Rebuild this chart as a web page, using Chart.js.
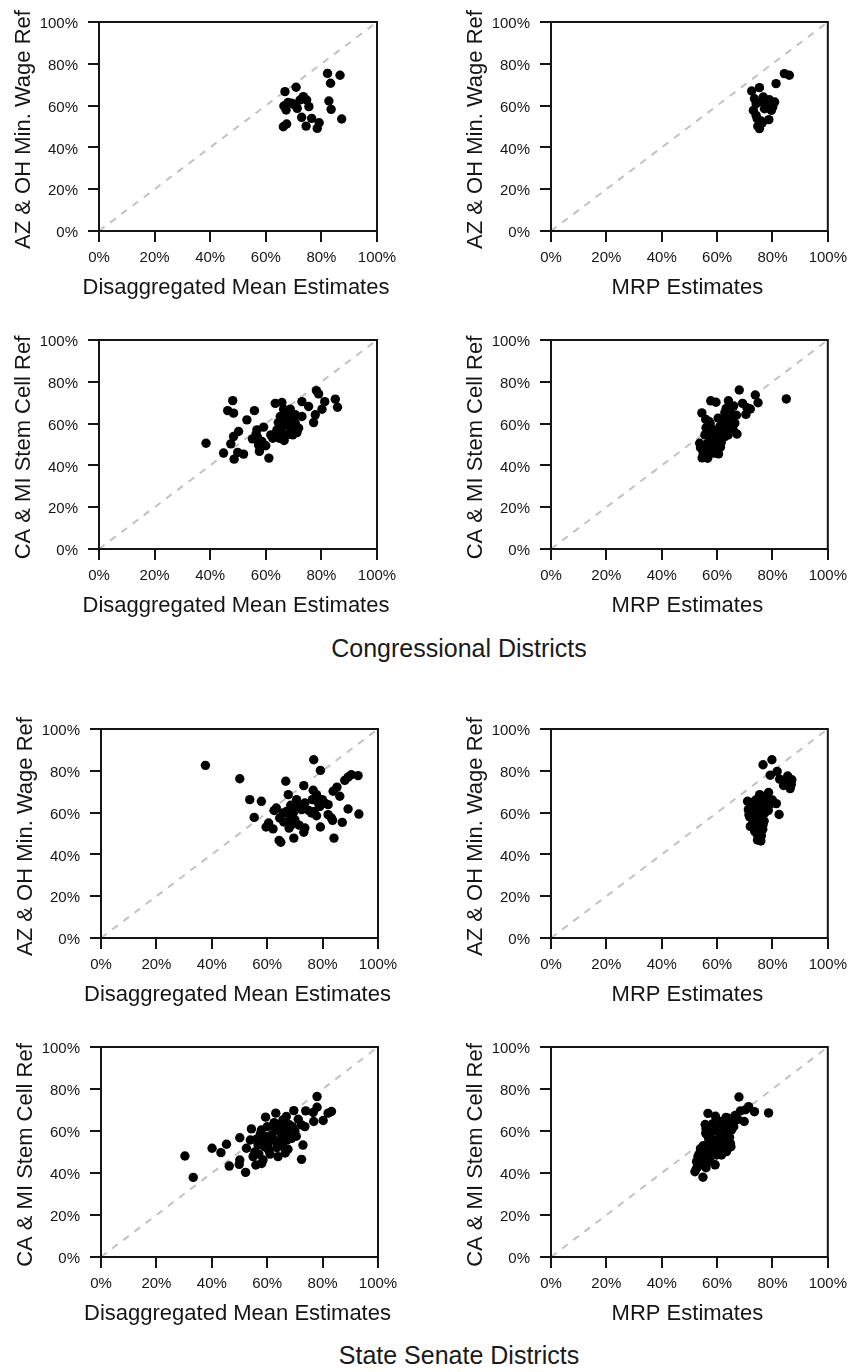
<!DOCTYPE html>
<html>
<head>
<meta charset="utf-8">
<title>Ballot measure validation</title>
<script src="https://cdn.jsdelivr.net/npm/chart.js@4.4.1/dist/chart.umd.min.js"></script>
<style>
  html, body { margin: 0; padding: 0; background: #fff; }
  #page { position: relative; width: 854px; height: 1372px; overflow: hidden;
          font-family: "Liberation Sans", Arial, Helvetica, sans-serif; }
  #page canvas { position: absolute; }
  .section { position: absolute; left: 459px; transform: translateX(-50%); white-space: nowrap;
             font-size: 25px; line-height: 30px; color: #1a1a1a; }
</style>
</head>
<body>
<div id="page">
  <div class="section" style="top:633px">Congressional Districts</div>
  <div class="section" style="top:1340px">State Senate Districts</div>
</div>
<script>
// axis ticks shared by every panel (percent)
var tickValues = [0, 20, 40, 60, 80, 100];

// axis titles
var meanTitle = 'Disaggregated Mean Estimates';
var mrpTitle = 'MRP Estimates';
var wageTitle = 'AZ & OH Min. Wage Ref';
var stemTitle = 'CA & MI Stem Cell Ref';

// Congressional districts, minimum wage referendum
var cdWageMeanX = [66.9, 70.9, 66.5, 67.3, 69.3, 71.3, 72.3, 73.5, 74.7, 75.5, 72.9, 76.5, 74.5, 79.2, 78.5, 66.3, 67.5, 82.2, 86.7, 83.3, 82.7, 83.5, 87.3, 70.2, 68.0];
var cdWageMeanY = [66.7, 68.8, 59.8, 57.9, 61.1, 58.7, 62.7, 64.3, 62.7, 59.5, 54.4, 53.9, 50.2, 51.8, 49.1, 49.9, 51.2, 75.4, 74.5, 70.7, 62.2, 58.2, 53.6, 60.5, 61.5];
var cdWageMrpX = [72.5, 75.3, 73.5, 73.1, 74.1, 76.5, 77.7, 78.9, 78.3, 80.1, 77.1, 74.5, 75.9, 78.7, 74.7, 75.3, 81.3, 84.3, 86.1, 74.1, 79.5, 80.8, 76.7, 76.3, 79.6];
var cdWageMrpY = [67.0, 68.6, 63.3, 57.7, 60.9, 61.7, 62.5, 62.8, 59.6, 59.3, 58.5, 53.7, 52.6, 53.3, 50.1, 49.0, 70.5, 75.3, 74.5, 55.3, 60.9, 61.7, 64.1, 51.7, 57.7];

// Congressional districts, stem cell referendum
var cdStemMeanX = [38.5, 44.8, 48.1, 46.3, 48.4, 47.4, 48.4, 50.2, 48.6, 49.9, 52.0, 53.2, 55.9, 55.2, 56.8, 57.4, 57.7, 59.2, 60.0, 58.6, 61.1, 61.8, 63.4, 65.8, 66.4, 68.8, 64.0, 66.6, 64.9, 67.6, 68.8, 70.0, 70.6, 71.8, 69.7, 73.0, 73.0, 75.4, 77.2, 77.8, 78.2, 79.0, 80.2, 81.2, 85.0, 85.8, 67.0, 65.2, 68.2, 70.6, 67.6, 63.0, 71.2, 56.5, 58.0, 65.5, 66.0, 62.5, 69.0, 57.0, 66.8, 64.5];
var cdStemMeanY = [50.6, 45.9, 71.0, 66.2, 65.0, 50.3, 53.8, 56.2, 43.0, 46.2, 45.4, 61.8, 66.2, 52.7, 57.0, 49.8, 46.7, 58.3, 49.4, 51.4, 43.5, 54.6, 69.7, 70.1, 66.9, 66.9, 57.0, 51.9, 53.0, 54.6, 57.8, 61.8, 64.2, 57.8, 54.6, 70.5, 63.4, 68.2, 60.5, 64.2, 75.8, 74.2, 66.9, 70.5, 71.7, 67.8, 61.0, 63.4, 64.2, 60.2, 59.4, 54.6, 55.7, 55.0, 48.5, 56.5, 59.0, 53.0, 63.0, 53.5, 65.5, 60.5];
var cdStemMrpX = [85.0, 68.0, 73.8, 74.8, 69.2, 70.8, 72.0, 70.4, 67.2, 57.7, 59.6, 64.1, 63.3, 62.8, 64.8, 65.9, 54.5, 55.9, 57.1, 61.0, 62.2, 64.0, 64.0, 60.4, 58.6, 53.7, 55.0, 54.6, 56.6, 57.4, 55.6, 58.6, 58.8, 59.7, 61.2, 62.8, 65.8, 66.4, 60.4, 56.0, 57.0, 58.0, 56.5, 55.5, 57.5, 60.0, 61.5, 63.0, 62.0, 64.5, 66.0, 67.0, 57.5, 55.0, 56.0, 59.0, 60.5, 54.0];
var cdStemMrpY = [71.8, 76.1, 73.7, 70.0, 69.7, 67.6, 67.0, 64.4, 55.0, 70.9, 70.2, 70.9, 67.3, 65.3, 65.8, 63.4, 65.1, 62.0, 61.0, 58.6, 57.0, 57.8, 54.6, 52.2, 49.8, 50.6, 46.7, 43.6, 43.4, 53.8, 54.6, 55.4, 45.9, 48.2, 48.7, 53.8, 57.0, 60.2, 62.6, 58.0, 56.5, 52.0, 50.5, 48.5, 47.5, 55.0, 51.0, 60.0, 62.0, 62.5, 68.5, 64.0, 60.0, 45.5, 44.0, 57.0, 45.5, 48.5];

// State senate districts, minimum wage referendum
var sdWageMeanX = [37.7, 50.1, 53.7, 57.9, 55.3, 59.6, 62.1, 63.3, 64.5, 64.3, 64.9, 66.7, 67.6, 65.7, 67.0, 68.3, 69.4, 68.8, 67.9, 69.6, 70.6, 71.2, 72.4, 73.2, 73.6, 73.6, 73.2, 76.8, 79.2, 76.6, 77.8, 76.3, 76.0, 77.8, 79.0, 79.9, 80.8, 79.2, 82.0, 83.2, 83.6, 84.1, 83.8, 85.2, 86.2, 87.1, 88.0, 89.2, 90.4, 92.8, 89.2, 93.1, 82.0, 78.4, 62.5, 66.0, 70.0, 75.0, 68.5, 71.5, 77.0, 60.5];
var sdWageMeanY = [82.6, 76.2, 66.2, 65.4, 57.7, 53.1, 52.2, 62.2, 57.4, 46.7, 45.8, 75.0, 68.6, 59.8, 60.6, 57.4, 59.8, 54.2, 52.6, 47.8, 66.2, 63.0, 61.4, 72.9, 64.6, 52.6, 50.6, 85.3, 80.2, 70.7, 68.6, 66.2, 59.8, 58.5, 63.0, 66.2, 64.6, 53.1, 59.0, 57.4, 56.3, 47.8, 70.2, 72.2, 67.8, 55.3, 75.4, 77.0, 78.1, 77.7, 61.7, 59.3, 63.8, 64.6, 61.0, 55.5, 56.5, 61.0, 63.5, 54.0, 60.5, 55.0];
var sdWageMrpX = [76.6, 79.8, 79.2, 81.7, 82.6, 85.5, 87.0, 85.0, 86.4, 86.8, 84.0, 82.4, 81.4, 78.6, 71.0, 71.3, 71.8, 72.0, 73.6, 75.2, 75.8, 74.6, 74.2, 75.4, 76.6, 77.8, 79.0, 73.6, 75.4, 76.0, 77.2, 74.2, 76.6, 75.4, 72.4, 77.8, 72.5, 73.0, 74.0, 75.0, 76.0, 73.5, 74.5, 76.5, 78.5, 80.0, 71.5, 73.0, 74.8, 77.0, 72.8, 76.2, 73.2, 75.5, 78.0, 74.0, 76.0];
var sdWageMrpY = [82.9, 85.3, 77.9, 79.7, 76.0, 77.5, 75.7, 74.2, 71.5, 73.5, 73.0, 59.1, 64.3, 69.6, 65.4, 61.4, 57.9, 53.4, 51.0, 47.8, 46.4, 46.9, 66.2, 68.6, 66.2, 64.6, 63.8, 59.8, 61.4, 57.4, 59.8, 55.8, 54.2, 51.8, 63.8, 67.8, 60.0, 56.0, 62.5, 64.5, 60.0, 53.5, 49.5, 52.0, 61.0, 66.0, 59.0, 65.0, 58.5, 56.0, 62.0, 63.0, 57.0, 55.0, 62.5, 51.0, 49.0];

// State senate districts, stem cell referendum
var sdStemMeanX = [30.3, 33.3, 40.1, 43.3, 45.3, 46.3, 50.1, 50.1, 49.9, 52.2, 52.5, 54.3, 53.9, 54.9, 55.9, 56.7, 57.9, 58.5, 59.4, 59.7, 60.3, 63.1, 62.1, 63.9, 63.3, 65.1, 65.7, 66.9, 66.3, 67.2, 67.5, 68.8, 69.1, 69.6, 71.2, 72.4, 72.9, 72.4, 73.6, 73.9, 76.6, 76.8, 78.0, 78.0, 80.2, 82.0, 83.2, 55.5, 57.0, 58.0, 56.0, 58.5, 60.5, 61.5, 62.0, 63.5, 64.5, 64.0, 65.5, 66.0, 67.0, 68.0, 70.0, 70.5, 61.0, 59.0, 62.5, 64.5, 66.5, 57.5, 60.0];
var sdStemMeanY = [48.1, 37.9, 51.8, 49.7, 53.7, 43.3, 56.8, 46.2, 44.1, 40.3, 51.8, 61.0, 55.7, 47.8, 43.8, 53.3, 60.5, 46.2, 66.6, 57.3, 53.3, 68.5, 62.1, 47.8, 54.9, 58.9, 65.3, 66.9, 61.3, 55.7, 51.3, 56.5, 62.1, 69.7, 65.6, 62.9, 53.3, 46.5, 62.1, 69.6, 68.8, 64.5, 76.4, 71.3, 65.0, 68.5, 69.3, 50.0, 49.0, 44.5, 56.0, 55.0, 51.0, 58.0, 56.5, 52.0, 55.5, 60.0, 53.0, 57.5, 59.5, 63.0, 60.0, 57.5, 49.0, 52.5, 64.0, 63.0, 49.5, 58.5, 62.0];
var sdStemMrpX = [78.6, 67.9, 71.4, 73.5, 69.8, 68.4, 56.7, 59.4, 55.7, 55.9, 59.2, 63.2, 52.0, 54.9, 59.3, 52.6, 53.1, 54.9, 53.7, 54.5, 56.8, 58.6, 61.0, 61.0, 62.8, 63.4, 65.2, 64.8, 61.6, 63.4, 65.8, 64.0, 66.5, 70.3, 58.0, 56.8, 59.8, 55.8, 53.5, 54.0, 55.0, 57.0, 58.0, 60.0, 62.0, 63.5, 60.5, 62.0, 57.5, 53.0, 55.5, 56.0, 54.0, 56.5, 58.5, 61.5, 64.5, 66.0, 67.5, 60.0, 62.5, 57.0, 55.0, 59.0, 65.0, 52.5, 54.5, 56.0, 57.5, 53.5];
var sdStemMrpY = [68.6, 76.2, 71.6, 69.2, 64.5, 69.5, 68.4, 67.0, 63.1, 58.9, 62.7, 66.4, 40.6, 38.0, 43.9, 45.4, 47.8, 49.4, 44.6, 46.0, 53.3, 55.7, 57.3, 52.5, 54.1, 58.9, 60.5, 54.1, 48.6, 50.2, 63.7, 66.1, 67.4, 70.1, 51.0, 47.8, 48.6, 50.5, 49.0, 51.5, 53.0, 56.0, 59.5, 60.0, 61.5, 63.0, 55.0, 56.0, 52.5, 43.0, 44.5, 42.5, 47.5, 58.0, 63.5, 64.5, 57.0, 62.0, 65.5, 50.5, 51.5, 49.5, 48.0, 54.0, 52.5, 42.0, 45.5, 61.0, 45.5, 46.5];

var FONT = '"Liberation Sans", Arial, Helvetica, sans-serif';
var INK = '#151515';

// closed frame around the plotting region
var plotBox = {
  id: 'plotBox',
  afterDatasetsDraw: function (chart) {
    var a = chart.chartArea, ctx = chart.ctx;
    ctx.save();
    ctx.strokeStyle = INK;
    ctx.lineWidth = 2;
    ctx.strokeRect(a.left, a.top, a.right - a.left, a.bottom - a.top);
    ctx.restore();
  }
};

// axis titles drawn at full width (scale titles get squeezed to the axis length)
var axisTitles = {
  id: 'axisTitles',
  afterDraw: function (chart, args, opts) {
    var a = chart.chartArea, ctx = chart.ctx;
    ctx.save();
    ctx.font = '22px ' + FONT;
    ctx.fillStyle = INK;
    ctx.textAlign = 'center';
    ctx.textBaseline = 'middle';
    ctx.fillText(opts.x, (a.left + a.right) / 2 - 2, a.bottom + 57);
    ctx.translate(a.left - 75, (a.top + a.bottom) / 2 + 3);
    ctx.rotate(-Math.PI / 2);
    ctx.fillText(opts.y, 0, 0);
    ctx.restore();
  }
};

function axis(size, tickLength, padding, labelOffset) {
  return {
    type: 'linear',
    min: tickValues[0],
    max: tickValues[tickValues.length - 1],
    afterBuildTicks: function (scale) {
      scale.ticks = tickValues.map(function (v) { return { value: v }; });
    },
    afterFit: function (scale) {
      if (scale.isHorizontal()) scale.height = size; else scale.width = size;
    },
    ticks: {
      autoSkip: false,
      maxRotation: 0,
      padding: padding,
      labelOffset: labelOffset,
      color: INK,
      font: { family: FONT, size: 15 },
      callback: function (v) { return v + '%'; }
    },
    grid: { drawOnChartArea: false, drawTicks: true, tickLength: tickLength, color: INK, lineWidth: 2 },
    border: { display: false }
  };
}

// one panel: data arrays, titles, canvas origin and plot rectangle [left, top, right, bottom]
function drawPanel(xs, ys, xTitle, yTitle, canvasLeft, canvasTop, plot) {
  var W = 427, H = 310;
  var canvas = document.createElement('canvas');
  canvas.width = W;
  canvas.height = H;
  canvas.style.left = canvasLeft + 'px';
  canvas.style.top = canvasTop + 'px';
  document.getElementById('page').appendChild(canvas);

  var points = xs.map(function (x, i) { return { x: x, y: ys[i] }; });
  var lo = tickValues[0], hi = tickValues[tickValues.length - 1];

  new Chart(canvas.getContext('2d'), {
    type: 'scatter',
    data: {
      datasets: [
        {
          data: points,
          backgroundColor: '#000',
          borderColor: '#000',
          pointRadius: 4.7,
          pointBorderWidth: 0,
          order: 1
        },
        {
          data: [{ x: lo, y: lo }, { x: hi, y: hi }],
          showLine: true,
          borderColor: '#c2c2c2',
          borderWidth: 2,
          borderDash: [7, 7],
          pointRadius: 0,
          order: 2
        }
      ]
    },
    options: {
      responsive: false,
      animation: false,
      events: [],
      devicePixelRatio: 1,
      layout: {
        padding: {
          left: 0,
          top: plot[1] - canvasTop,
          right: canvasLeft + W - plot[2],
          bottom: 0
        }
      },
      scales: {
        x: axis(canvasTop + H - plot[3], 11, 7, 0),
        y: axis(plot[0] - canvasLeft, 11, 10, 2)
      },
      plugins: {
        legend: { display: false },
        tooltip: { enabled: false },
        axisTitles: { x: xTitle, y: yTitle }
      }
    },
    plugins: [plotBox, axisTitles]
  });
}

drawPanel(cdWageMeanX, cdWageMeanY, meanTitle, wageTitle, 0, 0, [99, 22, 377, 231]);
drawPanel(cdWageMrpX, cdWageMrpY, mrpTitle, wageTitle, 427, 0, [551, 22, 829, 231]);
drawPanel(cdStemMeanX, cdStemMeanY, meanTitle, stemTitle, 0, 315, [99, 340, 377, 549]);
drawPanel(cdStemMrpX, cdStemMrpY, mrpTitle, stemTitle, 427, 315, [551, 340, 829, 549]);
drawPanel(sdWageMeanX, sdWageMeanY, meanTitle, wageTitle, 0, 700, [101, 729, 378, 938]);
drawPanel(sdWageMrpX, sdWageMrpY, mrpTitle, wageTitle, 427, 700, [551, 729, 829, 938]);
drawPanel(sdStemMeanX, sdStemMeanY, meanTitle, stemTitle, 0, 1020, [101, 1047, 378, 1257]);
drawPanel(sdStemMrpX, sdStemMrpY, mrpTitle, stemTitle, 427, 1020, [551, 1047, 829, 1257]);
</script>
</body>
</html>
